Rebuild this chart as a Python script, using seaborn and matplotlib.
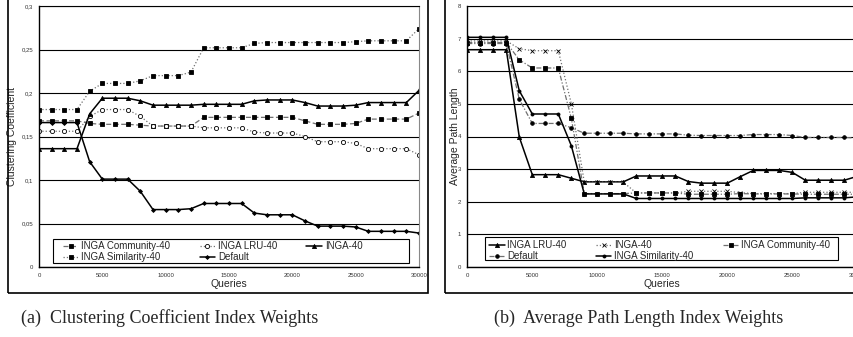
"""INGA index weights: clustering coefficient and average path length"""

import matplotlib
matplotlib.use('Agg')
import matplotlib.pyplot as plt
import matplotlib.patches as patches
import seaborn as sns

# queries axis (one sample every 1000 queries)
queries = list(range(0, 30001, 1000))

# (a) clustering coefficient
cc_community = [0.168, 0.168, 0.168, 0.168, 0.165, 0.164, 0.164, 0.164, 0.163, 0.162,
                0.162, 0.162, 0.162, 0.172, 0.172, 0.172, 0.172, 0.172, 0.172, 0.172,
                0.172, 0.168, 0.164, 0.164, 0.164, 0.165, 0.170, 0.170, 0.170, 0.170, 0.177]
cc_lru = [0.156, 0.156, 0.156, 0.156, 0.173, 0.181, 0.181, 0.181, 0.173, 0.162,
          0.162, 0.162, 0.162, 0.160, 0.160, 0.160, 0.160, 0.155, 0.154, 0.154,
          0.154, 0.150, 0.144, 0.144, 0.144, 0.142, 0.136, 0.136, 0.136, 0.136, 0.129]
cc_inga = [0.136, 0.136, 0.136, 0.136, 0.176, 0.194, 0.194, 0.194, 0.191, 0.186,
           0.186, 0.186, 0.186, 0.187, 0.187, 0.187, 0.187, 0.191, 0.192, 0.192,
           0.192, 0.189, 0.185, 0.185, 0.185, 0.186, 0.189, 0.189, 0.189, 0.189, 0.203]
cc_similarity = [0.181, 0.181, 0.181, 0.181, 0.202, 0.211, 0.211, 0.211, 0.214, 0.220,
                 0.220, 0.220, 0.224, 0.252, 0.252, 0.252, 0.252, 0.257, 0.258, 0.258,
                 0.258, 0.258, 0.258, 0.258, 0.258, 0.259, 0.260, 0.260, 0.260, 0.260, 0.274]
cc_default = [0.166, 0.166, 0.166, 0.166, 0.121, 0.101, 0.101, 0.101, 0.087, 0.066,
              0.066, 0.066, 0.067, 0.073, 0.073, 0.073, 0.073, 0.062, 0.060, 0.060,
              0.060, 0.053, 0.047, 0.047, 0.047, 0.046, 0.041, 0.041, 0.041, 0.041, 0.039]

# (b) average path length
apl_lru = [6.66, 6.66, 6.66, 6.66, 3.98, 2.83, 2.83, 2.83, 2.72, 2.61,
           2.61, 2.61, 2.61, 2.79, 2.79, 2.79, 2.79, 2.62, 2.57, 2.57,
           2.57, 2.77, 2.96, 2.96, 2.96, 2.90, 2.66, 2.66, 2.66, 2.66, 2.78]
apl_inga = [6.93, 6.93, 6.93, 6.93, 6.69, 6.63, 6.63, 6.63, 5.01, 2.60,
            2.60, 2.60, 2.60, 2.27, 2.27, 2.27, 2.27, 2.32, 2.32, 2.32,
            2.32, 2.28, 2.25, 2.25, 2.25, 2.25, 2.29, 2.29, 2.29, 2.29, 2.29]
apl_community = [6.88, 6.88, 6.88, 6.88, 6.35, 6.10, 6.10, 6.10, 4.56, 2.25,
                 2.25, 2.25, 2.25, 2.27, 2.27, 2.27, 2.27, 2.23, 2.23, 2.23,
                 2.23, 2.25, 2.24, 2.24, 2.24, 2.24, 2.23, 2.23, 2.23, 2.23, 2.23]
apl_default = [6.85, 6.85, 6.85, 6.85, 5.14, 4.40, 4.40, 4.40, 4.27, 4.10,
               4.10, 4.10, 4.10, 4.08, 4.08, 4.08, 4.08, 4.04, 4.03, 4.03,
               4.03, 4.03, 4.06, 4.06, 4.06, 4.03, 3.97, 3.97, 3.97, 3.97, 3.95]
apl_similarity = [7.04, 7.04, 7.04, 7.04, 5.40, 4.69, 4.69, 4.69, 3.72, 2.24,
                  2.24, 2.24, 2.24, 2.10, 2.10, 2.10, 2.10, 2.10, 2.10, 2.10,
                  2.10, 2.10, 2.10, 2.10, 2.10, 2.10, 2.12, 2.12, 2.12, 2.12, 2.15]

x_ticks = [0, 5000, 10000, 15000, 20000, 25000, 30000]
cc_ticks = [0, 0.05, 0.1, 0.15, 0.2, 0.25, 0.3]
cc_tick_labels = ['0', '0,05', '0,1', '0,15', '0,2', '0,25', '0,3']
apl_ticks = [0, 1, 2, 3, 4, 5, 6, 7, 8]

sns.set_style('white')
plt.rcParams['font.family'] = ['Liberation Sans', 'DejaVu Sans']

GRAY = '#707070'
SOLID = dict(color='k', linestyle='-', linewidth=1.1)
DOTTED = dict(color=GRAY, linestyle=':', linewidth=0.9)
DASHED = dict(color=GRAY, linestyle=(0, (4, 2)), linewidth=0.9)
DASHDOT = dict(color=GRAY, linestyle=(0, (4, 1.5, 1, 1.5)), linewidth=0.9)


def draw(ax, y, label, style, marker, ms=3, mfc='k'):
    sns.lineplot(x=queries, y=y, ax=ax, label=label, marker=marker, markersize=ms,
                 markerfacecolor=mfc, markeredgecolor='k', markeredgewidth=0.6,
                 **style)


def style_axes(ax, yticks, ylabels, ylim):
    ax.set_xlim(0, 30000)
    ax.set_ylim(*ylim)
    ax.set_xticks(x_ticks)
    ax.set_xticklabels([str(t) for t in x_ticks])
    ax.set_yticks(yticks)
    ax.set_yticklabels(ylabels)
    ax.tick_params(labelsize=4.3, length=2.5, width=0.6, direction='inout', pad=3,
                   colors='#333333')
    ax.yaxis.grid(True, color='k', linewidth=0.8)
    ax.xaxis.grid(False)
    for side in ['left', 'bottom']:
        ax.spines[side].set_color('k')
        ax.spines[side].set_linewidth(1.0)
    ax.spines['top'].set_color('k')
    ax.spines['top'].set_linewidth(0.8)
    ax.spines['right'].set_color('#888888')
    ax.spines['right'].set_linewidth(0.8)
    ax.set_xlabel('Queries', fontsize=7.5)
    ax.xaxis.set_label_coords(0.5, -0.045)


def add_legend(ax, order, anchor, frame):
    h, l = ax.get_legend_handles_labels()
    ax.legend([h[i] for i in order], [l[i] for i in order], ncol=3,
              loc='center left', bbox_to_anchor=anchor, fontsize=7,
              frameon=False, handlelength=1.6, handletextpad=0.3,
              borderpad=0, labelspacing=0.1, columnspacing=3.0, borderaxespad=0)
    ax.add_patch(patches.Rectangle(frame[:2], frame[2], frame[3],
                                   transform=ax.transAxes, fill=False,
                                   edgecolor='k', linewidth=0.8, zorder=5))


fig = plt.figure(figsize=(8.54, 3.37), dpi=100)

# outer chart frames
fig.patches.append(patches.Rectangle((8 / 854, 1 - 293 / 337), 420 / 854, 1.0,
                                     transform=fig.transFigure, fill=False,
                                     edgecolor='k', linewidth=1.2))
fig.patches.append(patches.Rectangle((445 / 854, 1 - 293 / 337), 1.0, 1.0,
                                     transform=fig.transFigure, fill=False,
                                     edgecolor='k', linewidth=1.2))

# (a) clustering coefficient
ax1 = fig.add_axes([39 / 854, 1 - 267 / 337, 380 / 854, 261 / 337])
draw(ax1, cc_community, 'INGA Community-40', DASHED, 's', ms=2.8)
draw(ax1, cc_lru, 'INGA LRU-40', DOTTED, 'o', ms=3, mfc='white')
draw(ax1, cc_inga, 'INGA-40', SOLID, '^', ms=3)
draw(ax1, cc_similarity, 'INGA Similarity-40', DOTTED, 's', ms=2.8)
draw(ax1, cc_default, 'Default', SOLID, 'D', ms=2)
style_axes(ax1, cc_ticks, cc_tick_labels, (0, 0.3))
ax1.set_ylabel('Clustering Coefficient', fontsize=7.5)
ax1.yaxis.set_label_coords(-0.058, 0.5)
add_legend(ax1, [0, 3, 1, 4, 2], (0.063, 0.059), (0.037, 0.0153, 0.937, 0.092))

# (b) average path length
ax2 = fig.add_axes([467.3 / 854, 1 - 267 / 337, 390 / 854, 261 / 337])
draw(ax2, apl_lru, 'INGA LRU-40', SOLID, '^', ms=3)
draw(ax2, apl_inga, 'INGA-40', DOTTED, 'x', ms=3)
draw(ax2, apl_community, 'INGA Community-40', DASHDOT, 's', ms=2.8)
draw(ax2, apl_default, 'Default', DASHDOT, 'o', ms=2.6)
draw(ax2, apl_similarity, 'INGA Similarity-40', SOLID, 'o', ms=2.2)
style_axes(ax2, apl_ticks, [str(t) for t in apl_ticks], (0, 8))
ax2.set_ylabel('Average Path Length', fontsize=7.5)
ax2.yaxis.set_label_coords(-0.02, 0.5)
add_legend(ax2, [0, 3, 1, 4, 2], (0.0556, 0.063), (0.045, 0.027, 0.905, 0.088))

# captions
fig.text(170 / 854, 1 - 318 / 337, '(a)  Clustering Coefficient Index Weights',
         ha='center', va='center', fontsize=13, family='Liberation Serif')
fig.text(639 / 854, 1 - 318 / 337, '(b)  Average Path Length Index Weights',
         ha='center', va='center', fontsize=13, family='Liberation Serif')

fig.savefig('out.png', dpi=100)
